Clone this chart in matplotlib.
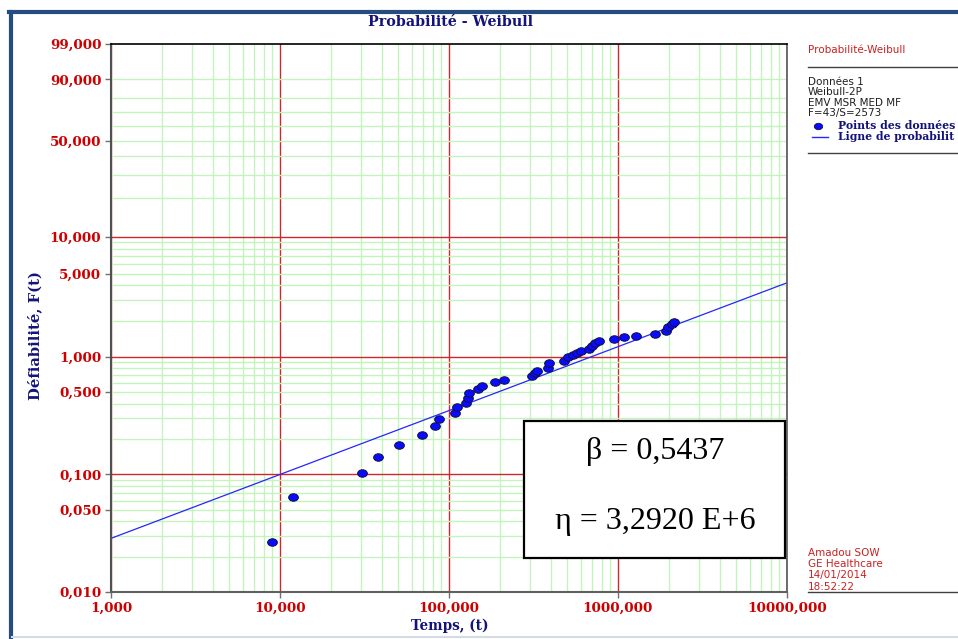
import numpy as np
import matplotlib.pyplot as plt
from matplotlib.patches import Rectangle
from matplotlib.lines import Line2D
from matplotlib.path import Path
from matplotlib.transforms import Affine2D
from matplotlib.ticker import LogLocator, NullFormatter

# temps (t) et defiabilite F(t) en %
temps = [9.0, 12.0, 30.4, 38.2, 50.8, 69.5, 82.6, 87.3, 108.5, 111.1,
         126.1, 130.1, 132.2, 149.1, 156.2, 187.2, 213.0, 309.8, 322.8, 330.3,
         383.7, 392.2, 481.1, 504.0, 539.5, 569.6, 601.5, 676.5, 698.9, 730.9,
         775.0, 950.9, 1089.6, 1278, 1655, 1923, 1987, 2079, 2145]
defiab = [0.0264, 0.0647, 0.1035, 0.140, 0.179, 0.218, 0.256, 0.295, 0.331, 0.371,
          0.408, 0.445, 0.491, 0.531, 0.566, 0.606, 0.639, 0.682, 0.726, 0.764,
          0.810, 0.883, 0.923, 0.985, 1.034, 1.081, 1.117, 1.155, 1.231, 1.298,
          1.366, 1.403, 1.459, 1.505, 1.555, 1.659, 1.773, 1.889, 1.975]

beta = 0.5437
eta = 3.2920e6

y_ticks = [0.01, 0.05, 0.1, 0.5, 1, 5, 10, 50, 90, 99]
y_red = [0.1, 1, 10]
y_green = [0.02, 0.03, 0.04, 0.05, 0.06, 0.07, 0.08, 0.09,
           0.2, 0.3, 0.4, 0.5, 0.6, 0.7, 0.8, 0.9,
           2, 3, 4, 5, 6, 7, 8, 9,
           20, 30, 40, 50, 60, 70, 80, 90]
x_ticks = [1, 10, 100, 1000, 10000]

legend_info = ["Données 1", "Weibull-2P", "EMV MSR MED MF", "F=43/S=2573"]
signature = ["Amadou SOW", "GE Healthcare", "14/01/2014", "18:52:22"]

NAVY = '#13137a'
RED = '#cc0000'
GREEN = '#c2f5bc'
GRIDRED = '#cc2a2a'

W, H = 958, 639


def fx(x):
    return x / W


def fy(y):
    return 1 - y / H


def fwd(p):
    p = np.clip(np.asarray(p, dtype=float), 1e-6, 99.9999)
    return np.log(-np.log(1 - p / 100.0))


def inv(w):
    return 100.0 * (1 - np.exp(-np.exp(w)))


def fr(v):
    return f"{v:.3f}".replace('.', ',')


fig = plt.figure(figsize=(W / 100, H / 100), dpi=100)
ax = fig.add_axes([fx(111), fy(592), (787 - 111) / W, (592 - 44) / H])

ax.set_xscale('log')
ax.set_yscale('function', functions=(fwd, inv))
ax.set_xlim(1, 10000)
ax.set_ylim(0.01, 99)

# grille
for v in y_green:
    ax.axhline(v, color=GREEN, lw=1, zorder=1)
for v in y_red:
    ax.axhline(v, color=GRIDRED, lw=1, zorder=1.5)
ax.xaxis.set_minor_locator(LogLocator(base=10, subs=range(2, 10)))
ax.xaxis.set_minor_formatter(NullFormatter())
ax.grid(which='minor', axis='x', color=GREEN, lw=1, zorder=1)
ax.grid(which='major', axis='x', color=GRIDRED, lw=1, zorder=1.5)
ax.set_axisbelow(True)

# ligne de probabilite
t_line = np.logspace(0, 4, 300)
f_line = 100 * (1 - np.exp(-(t_line / eta) ** beta))
ax.plot(t_line, f_line, color='#2626ff', lw=0.9, zorder=3)

# points des donnees (ellipses)
ell = Path.unit_circle().transformed(Affine2D().scale(1.3, 1.0))
ax.plot(temps, defiab, ls='none', marker=ell, ms=7, mfc='#0a0aff',
        mec='#101040', mew=0.7, zorder=4)

ax.set_xticks(x_ticks)
ax.set_xticklabels([fr(v) for v in x_ticks])
ax.set_yticks(y_ticks)
ax.set_yticklabels([fr(v) for v in y_ticks])
ax.yaxis.set_minor_locator(plt.NullLocator())
ax.tick_params(which='major', length=4, width=1, color='#707070',
               labelcolor=RED, labelsize=9.7, pad=3)
ax.tick_params(which='minor', length=0)
for lab in ax.get_xticklabels() + ax.get_yticklabels():
    lab.set_fontfamily('DejaVu Serif')
    lab.set_fontweight('bold')

ax.spines['left'].set_color('#505050')
ax.spines['left'].set_linewidth(1.5)
ax.spines['bottom'].set_color('#606060')
ax.spines['bottom'].set_linewidth(1.5)
ax.spines['top'].set_color('black')
ax.spines['top'].set_linewidth(1.2)
ax.spines['right'].set_color('#555555')
ax.spines['right'].set_linewidth(1.2)
for s in ax.spines.values():
    s.set_zorder(5)

# titres
fig.text(fx(450), fy(22), "Probabilité - Weibull", ha='center', va='center',
         fontsize=10.3, fontweight='bold', family='DejaVu Serif', color=NAVY)
fig.text(fx(35), fy(336), "Défiabilité, F(t)", ha='center', va='center',
         rotation=90, fontsize=10.6, fontweight='bold', family='DejaVu Serif',
         color=NAVY)
fig.text(fx(450), fy(626), "Temps, (t)", ha='center', va='center',
         fontsize=9.8, fontweight='bold', family='DejaVu Serif', color=NAVY)

# cadre des parametres
fig.patches.append(Rectangle((fx(524), fy(558)), (785 - 524) / W, (558 - 421) / H,
                             transform=fig.transFigure, facecolor='white',
                             edgecolor='black', lw=1.6, zorder=6))
fig.text(fx(655), fy(452), "\u03b2 = 0,5437", ha='center', va='center',
         fontsize=23, family='Liberation Serif', color='black', zorder=7)
fig.text(fx(655), fy(522), "\u03b7 = 3,2920 E+6", ha='center', va='center',
         fontsize=23, family='Liberation Serif', color='black', zorder=7)

# panneau legende
fig.text(fx(808), fy(50), "Probabilité-Weibull", ha='left', va='center',
         fontsize=7.5, family='DejaVu Sans', color='#cc2020')
fig.lines.append(Line2D([fx(808), 1], [fy(66.5), fy(66.5)],
                        transform=fig.transFigure, color='#404040', lw=1))
for i, s in enumerate(legend_info):
    fig.text(fx(808), fy(81.7 + 10.5 * i), s, ha='left', va='center',
             fontsize=7.5, family='DejaVu Sans', color='#202020')
fig.lines.append(Line2D([fx(818)], [fy(125.7)], transform=fig.transFigure,
                        ls='none', marker=ell, ms=6, mfc='#0a0aff', mec='#101040',
                        mew=0.6))
fig.text(fx(838), fy(125.7), "Points des données", ha='left', va='center',
         fontsize=7.8, fontweight='bold', family='DejaVu Serif', color=NAVY)
fig.lines.append(Line2D([fx(812), fx(828)], [fy(136.5), fy(136.5)],
                        transform=fig.transFigure, color='#2626ff', lw=1))
# texte coupe au bord, comme sur l'original
fig.text(fx(838), fy(136.5), "Ligne de probabilit", ha='left', va='center',
         fontsize=7.8, fontweight='bold', family='DejaVu Serif', color=NAVY)
fig.lines.append(Line2D([fx(808), 1], [fy(152.7), fy(152.7)],
                        transform=fig.transFigure, color='#404040', lw=1))

for i, s in enumerate(signature):
    fig.text(fx(808), fy(552.7 + 11.3 * i), s, ha='left', va='center',
             fontsize=7.5, family='DejaVu Sans', color='#cc2020')
fig.lines.append(Line2D([fx(808), 1], [fy(592), fy(592)],
                        transform=fig.transFigure, color='#404040', lw=1))

# cadre de la fenetre
fig.lines.append(Line2D([fx(10.5), fx(10.5)], [fy(12), fy(637)],
                        transform=fig.transFigure, color='#244c7e', lw=3))
fig.lines.append(Line2D([fx(9), 1], [fy(12), fy(12)],
                        transform=fig.transFigure, color='#244c7e', lw=3))
fig.lines.append(Line2D([fx(12), 1], [fy(637), fy(637)],
                        transform=fig.transFigure, color='#d3dbe4', lw=1.5))

fig.savefig("out.png", dpi=100)
